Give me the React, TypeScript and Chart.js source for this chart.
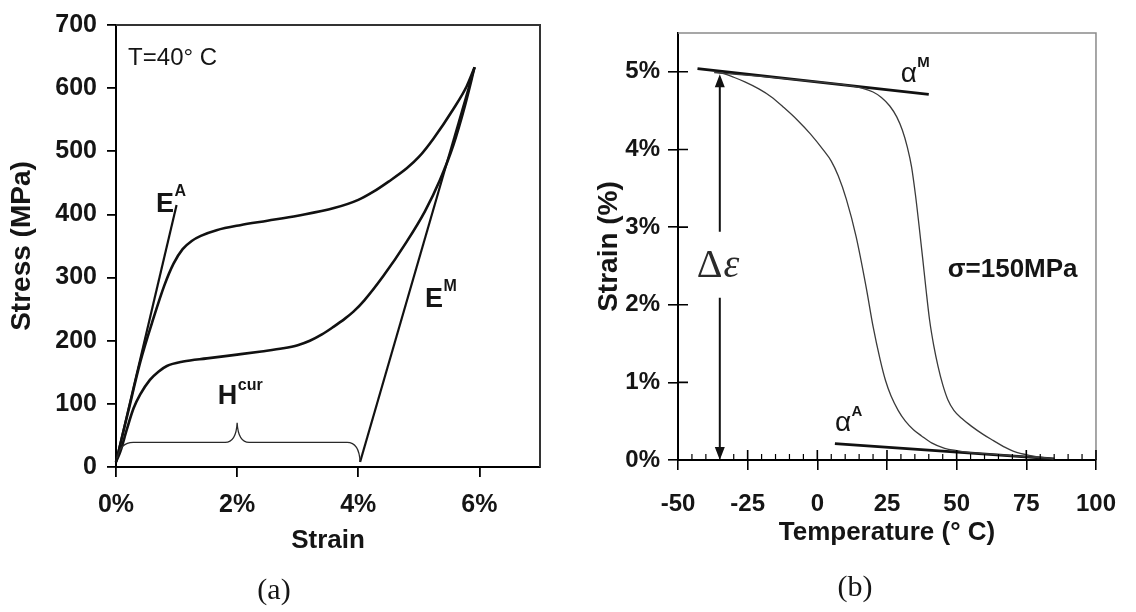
import { useEffect, useRef } from 'react';
import { Chart, registerables } from 'chart.js';

Chart.register(...registerables);

const SANS = '"Liberation Sans", Arial, Helvetica, sans-serif';
const SERIF = '"Liberation Serif", "Times New Roman", serif';
const INK = '#151515';

// ---------- (a) isothermal stress–strain loop, T = 40 °C ----------
const strainTicksA = [0, 2, 4, 6]; // %
const stressTicksA = [0, 100, 200, 300, 400, 500, 600, 700]; // MPa

const loadingStrain = [0, 0.2, 0.4, 0.62, 0.8, 0.95, 1.1, 1.25, 1.4, 1.66, 2.05, 2.5, 3.0, 3.6, 4.0, 4.25, 4.5, 4.8, 5.0, 5.24, 5.57, 5.79, 5.92];
const loadingStress = [8, 87, 166, 236, 288, 322, 345, 358, 366, 375, 383, 390, 398, 410, 423, 436, 452, 473, 491, 520, 567, 603, 633];

const unloadingStrain = [0, 0.07, 0.18, 0.29, 0.4, 0.56, 0.7, 0.84, 1.11, 1.5, 2.0, 2.4, 2.76, 3.0, 3.2, 3.4, 3.59, 3.78, 3.92, 4.1, 4.41, 4.8, 5.1, 5.35, 5.57, 5.76, 5.92];
const unloadingStress = [8, 24, 60, 93, 115, 138, 151, 160, 167, 172, 178, 183, 188, 193, 200, 210, 222, 235, 246, 264, 302, 357, 405, 455, 510, 572, 633];

// elastic branches: austenite (E^A) and martensite (E^M)
const elasticAStrain = [0, 1.0];
const elasticAStress = [8, 415];
const elasticMStrain = [4.03, 5.92];
const elasticMStress = [8, 633];

// brace spanning the transformation strain H^cur
const hcurStart = 0.02;
const hcurTip = 2.0;
const hcurEnd = 4.03;
const hcurLevel = 39;
const hcurPeak = 70;
const hcurFootStart = 14;
const hcurFootEnd = 8;

// ---------- (b) strain–temperature loop, σ = 150 MPa ----------
const tempTicks = [-50, -25, 0, 25, 50, 75, 100]; // °C
const tempMinorStep = 5;
const strainTicksB = [0, 1, 2, 3, 4, 5]; // %

const coolingTemp = [-37, -34, -30, -26, -21, -16.6, -12, -7.2, -2.5, 2.2, 5, 7.5, 10.4, 13.9, 17.5, 20, 22.5, 24.5, 26.5, 29, 31.6, 34.5, 37.4, 41, 45.7, 50, 55, 65, 75, 85];
const coolingStrain = [5.0, 4.98, 4.93, 4.87, 4.78, 4.68, 4.54, 4.38, 4.2, 3.99, 3.85, 3.66, 3.36, 2.88, 2.23, 1.72, 1.3, 1.02, 0.82, 0.64, 0.5, 0.39, 0.31, 0.22, 0.15, 0.12, 0.095, 0.07, 0.04, 0.015];

const heatingTemp = [-37, -20, 0, 10, 16, 20, 23, 26, 28.5, 30.5, 32.3, 33.8, 35.2, 36.5, 37.8, 39, 40.3, 41.8, 43.3, 45, 46.8, 49, 52, 55.5, 59.5, 63.2, 67, 70.5, 76, 85];
const heatingStrain = [4.99, 4.94, 4.87, 4.83, 4.79, 4.74, 4.67, 4.56, 4.42, 4.25, 4.03, 3.78, 3.42, 3.02, 2.6, 2.2, 1.8, 1.47, 1.21, 0.97, 0.78, 0.64, 0.53, 0.43, 0.33, 0.25, 0.17, 0.11, 0.06, 0.015];

// thermal expansion tangents of martensite and austenite
const alphaMTemp = [-43, 40];
const alphaMStrain = [5.04, 4.71];
const alphaATemp = [6.3, 85];
const alphaAStrain = [0.21, 0.015];

// Δε double arrow
const deltaEpsTemp = -35;
const deltaEpsStrain = [0, 4.97];
const deltaEpsGap = [2.09, 2.94];

const pts = (xs: number[], ys: number[]) => xs.map((x, i) => ({ x, y: ys[i] }));

const curve = (data: { x: number; y: number }[], width: number, color = '#111', extra: any = {}) => ({
  data,
  showLine: true,
  borderColor: color,
  backgroundColor: color,
  borderWidth: width,
  pointRadius: 0,
  fill: false,
  cubicInterpolationMode: 'monotone',
  clip: false,
  ...extra,
});

const straight = { cubicInterpolationMode: 'default', tension: 0 };

const boldFont = (size: number) => ({ family: SANS, size, weight: 'bold' as const });

function supText(ctx: CanvasRenderingContext2D, base: string, sup: string, x: number, y: number, baseFont: string, supFont: string, rise: number) {
  ctx.font = baseFont;
  ctx.fillText(base, x, y);
  const w = ctx.measureText(base).width;
  ctx.font = supFont;
  ctx.fillText(sup, x + w + 0.5, y - rise);
}

const overlayA = {
  id: 'overlayA',
  afterDraw(chart: any) {
    const { ctx, chartArea: ca } = chart;
    const X = (v: number) => chart.scales.x.getPixelForValue(v);
    const Y = (v: number) => chart.scales.y.getPixelForValue(v);
    ctx.save();

    // top and right frame
    ctx.strokeStyle = '#333';
    ctx.lineWidth = 2;
    ctx.beginPath();
    ctx.moveTo(ca.left, ca.top);
    ctx.lineTo(ca.right, ca.top);
    ctx.lineTo(ca.right, ca.bottom);
    ctx.stroke();

    // H^cur brace
    const xs = X(hcurStart), xm = X(hcurTip), xe = X(hcurEnd);
    const yl = Y(hcurLevel);
    ctx.strokeStyle = '#2a2a2a';
    ctx.lineWidth = 1.3;
    ctx.beginPath();
    ctx.moveTo(xs, Y(hcurFootStart));
    ctx.quadraticCurveTo(xs + 3, yl, xs + 16, yl);
    ctx.lineTo(xm - 12, yl);
    ctx.quadraticCurveTo(xm - 1, yl, xm, Y(hcurPeak));
    ctx.quadraticCurveTo(xm + 1, yl, xm + 12, yl);
    ctx.lineTo(xe - 13, yl);
    ctx.quadraticCurveTo(xe - 1, yl, xe, Y(hcurFootEnd));
    ctx.stroke();

    // annotations
    ctx.fillStyle = INK;
    ctx.textAlign = 'left';
    ctx.textBaseline = 'alphabetic';
    ctx.font = `24px ${SANS}`;
    ctx.fillText('T=40° C', X(0.2), Y(637));

    supText(ctx, 'E', 'A', X(0.66), Y(404), `bold 27px ${SANS}`, `bold 16px ${SANS}`, 16);
    supText(ctx, 'E', 'M', X(5.1), Y(253), `bold 27px ${SANS}`, `bold 16px ${SANS}`, 16);
    supText(ctx, 'H', 'cur', X(1.68), Y(99), `bold 27px ${SANS}`, `bold 16px ${SANS}`, 14);

    // panel caption
    ctx.font = `30px ${SERIF}`;
    ctx.textAlign = 'center';
    ctx.textBaseline = 'middle';
    ctx.fillText('(a)', 274, 591);
    ctx.restore();
  },
};

const overlayB = {
  id: 'overlayB',
  afterDraw(chart: any) {
    const { ctx, chartArea: ca } = chart;
    const X = (v: number) => chart.scales.x.getPixelForValue(v);
    const Y = (v: number) => chart.scales.y.getPixelForValue(v);
    ctx.save();

    // light top and right frame
    ctx.strokeStyle = '#8a8a8a';
    ctx.lineWidth = 1.5;
    ctx.beginPath();
    ctx.moveTo(ca.left, ca.top);
    ctx.lineTo(ca.right, ca.top);
    ctx.lineTo(ca.right, ca.bottom);
    ctx.stroke();

    // inner halves of the major ticks and the minor temperature ticks
    ctx.strokeStyle = '#000';
    ctx.lineWidth = 1.6;
    ctx.beginPath();
    tempTicks.forEach((t) => {
      ctx.moveTo(X(t), ca.bottom);
      ctx.lineTo(X(t), ca.bottom - 10);
    });
    strainTicksB.forEach((s) => {
      ctx.moveTo(ca.left, Y(s));
      ctx.lineTo(ca.left + 10, Y(s));
    });
    ctx.stroke();
    ctx.lineWidth = 1.2;
    ctx.beginPath();
    for (let t = tempTicks[0]; t <= tempTicks[tempTicks.length - 1]; t += tempMinorStep) {
      if (tempTicks.includes(t)) continue;
      ctx.moveTo(X(t), ca.bottom);
      ctx.lineTo(X(t), ca.bottom - 6);
    }
    ctx.stroke();

    // Δε double arrow
    const ax = X(deltaEpsTemp);
    const yTop = Y(deltaEpsStrain[1]);
    const yBot = Y(deltaEpsStrain[0]);
    ctx.strokeStyle = '#111';
    ctx.fillStyle = '#111';
    ctx.lineWidth = 2;
    ctx.beginPath();
    ctx.moveTo(ax, yTop + 10);
    ctx.lineTo(ax, Y(deltaEpsGap[1]));
    ctx.moveTo(ax, Y(deltaEpsGap[0]));
    ctx.lineTo(ax, yBot - 10);
    ctx.stroke();
    ctx.beginPath();
    ctx.moveTo(ax, yTop);
    ctx.lineTo(ax - 5, yTop + 13);
    ctx.lineTo(ax + 5, yTop + 13);
    ctx.closePath();
    ctx.moveTo(ax, yBot);
    ctx.lineTo(ax - 5, yBot - 13);
    ctx.lineTo(ax + 5, yBot - 13);
    ctx.closePath();
    ctx.fill();

    // annotations
    ctx.fillStyle = INK;
    ctx.textAlign = 'left';
    ctx.textBaseline = 'alphabetic';
    supText(ctx, 'α', 'M', X(29.9), Y(4.87), `28px ${SANS}`, `bold 15px ${SANS}`, 15);
    supText(ctx, 'α', 'A', X(6.3), Y(0.37), `28px ${SANS}`, `bold 15px ${SANS}`, 15);

    ctx.fillStyle = '#2a2a2a';
    ctx.font = `40px ${SERIF}`;
    const dx = X(-43.3);
    const dy = Y(2.36);
    ctx.fillText('Δ', dx, dy);
    const dw = ctx.measureText('Δ').width;
    ctx.font = `italic 40px ${SERIF}`;
    ctx.fillText('ε', dx + dw + 1, dy);

    ctx.fillStyle = INK;
    ctx.font = `bold 26px ${SANS}`;
    ctx.fillText('σ=150MPa', X(46.8), Y(2.36));

    // panel caption
    ctx.font = `30px ${SERIF}`;
    ctx.textAlign = 'center';
    ctx.textBaseline = 'middle';
    ctx.fillText('(b)', 295, 588);
    ctx.restore();
  },
};

function baseOptions(pad: { top: number; right: number }) {
  return {
    animation: false,
    responsive: false,
    maintainAspectRatio: false,
    devicePixelRatio: 1,
    events: [],
    layout: { padding: { left: 0, top: pad.top, right: pad.right, bottom: 0 } },
    plugins: { legend: { display: false }, tooltip: { enabled: false } },
  };
}

function configA(): any {
  return {
    type: 'scatter',
    data: {
      datasets: [
        curve(pts(loadingStrain, loadingStress), 2.6),
        curve(pts(unloadingStrain, unloadingStress), 2.6),
        curve(pts(elasticAStrain, elasticAStress), 2.2, '#111', straight),
        curve(pts(elasticMStrain, elasticMStress), 2.2, '#111', straight),
      ],
    },
    options: {
      ...baseOptions({ top: 22, right: 20 }),
      scales: {
        x: {
          type: 'linear',
          min: 0,
          max: 7,
          afterFit: (s: any) => { s.height = 145; },
          afterBuildTicks: (s: any) => { s.ticks = strainTicksA.map((value) => ({ value })); },
          ticks: { callback: (v: number) => `${v}%`, font: boldFont(25), color: INK, padding: 13, maxRotation: 0, autoSkip: false },
          grid: { drawOnChartArea: false, tickLength: 10, color: '#000', lineWidth: 1.8 },
          border: { color: '#000', width: 2 },
          title: { display: true, text: 'Strain', font: boldFont(26), color: INK, padding: { top: 0, bottom: 56 } },
        },
        y: {
          type: 'linear',
          min: 0,
          max: 700,
          afterFit: (s: any) => { s.width = 116; },
          afterBuildTicks: (s: any) => { s.ticks = stressTicksA.map((value) => ({ value })); },
          ticks: { font: boldFont(25), color: INK, padding: 10, autoSkip: false },
          grid: { drawOnChartArea: false, tickLength: 9, color: '#000', lineWidth: 1.8 },
          border: { color: '#000', width: 2 },
          title: { display: true, text: 'Stress (MPa)', font: boldFont(28), color: INK, padding: { top: 5, bottom: 0 } },
        },
      },
    },
    plugins: [overlayA],
  };
}

function configB(): any {
  return {
    type: 'scatter',
    data: {
      datasets: [
        curve(pts(coolingTemp, coolingStrain), 1.3, '#3a3a3a'),
        curve(pts(heatingTemp, heatingStrain), 1.3, '#3a3a3a'),
        curve(pts(alphaMTemp, alphaMStrain), 2.8, '#111', straight),
        curve(pts(alphaATemp, alphaAStrain), 2.8, '#111', straight),
      ],
    },
    options: {
      ...baseOptions({ top: 33, right: 32 }),
      scales: {
        x: {
          type: 'linear',
          min: -50,
          max: 100,
          afterFit: (s: any) => { s.height = 152; },
          afterBuildTicks: (s: any) => { s.ticks = tempTicks.map((value) => ({ value })); },
          ticks: { font: boldFont(24), color: INK, padding: 20, maxRotation: 0, autoSkip: false },
          grid: { drawOnChartArea: false, tickLength: 10, color: '#000', lineWidth: 1.6 },
          border: { color: '#000', width: 2 },
          title: { display: true, text: 'Temperature (° C)', font: boldFont(26), color: INK, padding: { top: 0, bottom: 64 } },
        },
        y: {
          type: 'linear',
          min: 0,
          max: 5.5,
          afterFit: (s: any) => { s.width = 118; },
          afterBuildTicks: (s: any) => { s.ticks = strainTicksB.map((value) => ({ value })); },
          ticks: { callback: (v: number) => `${v}%`, font: boldFont(24), color: INK, padding: 8, autoSkip: false },
          grid: { drawOnChartArea: false, tickLength: 10, color: '#000', lineWidth: 1.6 },
          border: { color: '#000', width: 2 },
          title: { display: true, text: 'Strain (%)', font: boldFont(28), color: INK, padding: { top: 32, bottom: 0 } },
        },
      },
    },
    plugins: [overlayB],
  };
}

export default function App() {
  const refA = useRef<HTMLCanvasElement>(null);
  const refB = useRef<HTMLCanvasElement>(null);

  useEffect(() => {
    const a = new Chart(refA.current as HTMLCanvasElement, configA());
    const b = new Chart(refB.current as HTMLCanvasElement, configB());
    return () => {
      a.destroy();
      b.destroy();
    };
  }, []);

  return (
    <div style={{ position: 'absolute', left: 0, top: 0, width: 1136, height: 612, background: '#fff', overflow: 'hidden' }}>
      <canvas ref={refA} width={560} height={612} style={{ position: 'absolute', left: 0, top: 0, width: 560, height: 612 }} />
      <canvas ref={refB} width={576} height={612} style={{ position: 'absolute', left: 560, top: 0, width: 576, height: 612 }} />
    </div>
  );
}
